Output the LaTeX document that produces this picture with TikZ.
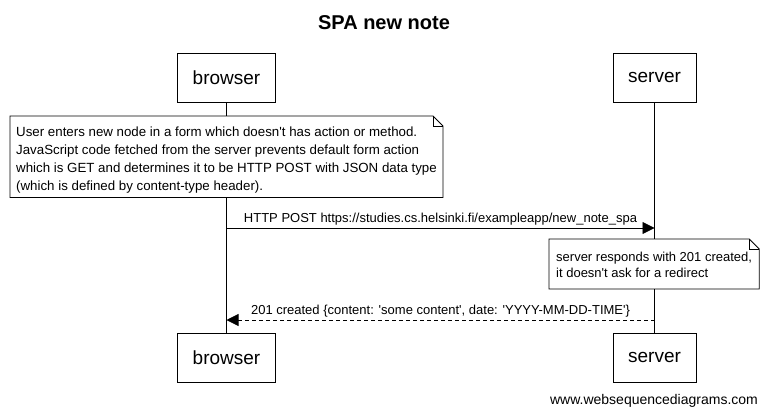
\documentclass[tikz,border=0pt]{standalone}
\usepackage{fontspec}
\setmainfont{Liberation Sans}
\usetikzlibrary{arrows.meta}
\tikzset{
  actor box/.style={
    draw,fill=white,font=\fontsize{19}{22}\selectfont,
    minimum height=49pt,inner xsep=15pt,line width=0.8pt,
  },
  note box/.style={
    fill=white,anchor=north west,align=left,inner xsep=6pt,inner ysep=0pt,
  },
  note line/.style={draw,line width=0.8pt},
  message/.style={line width=0.8pt,-{Triangle[length=12pt,width=12pt]}},
  reply/.style={message,dash pattern=on 4pt off 3pt},
  message label/.style={font=\fontsize{13}{15}\selectfont,above,inner sep=2pt},
}
\newcommand{\sq}{\textquotesingle}

\begin{document}
\begin{tikzpicture}[x=1pt,y=-1pt]
   \useasboundingbox[fill=white] (0,0) rectangle (768,416);

   % TITLE
   \node[font=\fontsize{20}{24}\selectfont\bfseries] (title) at (384,23) {SPA new note};

   % ACTORS
   \node[actor box] (browser) at (226.5,77.5) {browser}; % top
   \node[actor box] (server) at (654.5,77.5) {server}; % top
   \node[actor box] (browserB) at (226.5,357.5) {browser}; % bottom
   \node[actor box] (serverB) at (654.5,357.5) {server}; % bottom

   % LIFELINES
   \path[draw,line width=0.8pt] (browser)--(browserB);
   \path[draw,line width=0.8pt] (server)--(serverB);

   % NOTE BROWSER
   \node[note box,font=\fontsize{13.3}{18}\selectfont] (n1) at (10,116)
     {\rule{0pt}{20pt}User enters new node in a form which doesn\sq t has action or method.\\
      JavaScript code fetched from the server prevents default form action\\
      which is GET and determines it to be HTTP POST with JSON data type\\
      (which is defined by content-type header).\rule[-7pt]{0pt}{0pt}};
   \path[note line] (n1.north west)--([xshift=-10pt]n1.north east)--([yshift=-10pt]n1.north east)
     --(n1.south east)--(n1.south west)--cycle;
   \path[note line] ([xshift=-10pt]n1.north east)--([xshift=-10pt,yshift=-10pt]n1.north east)
     --([yshift=-10pt]n1.north east);

   % MESSAGE POST
   \coordinate (postFrom) at (browser |- 0,228);
   \coordinate (postTo) at (server |- 0,228);
   \draw[message] (postFrom)--(postTo)
     node[message label,midway] {HTTP POST https://studies.cs.helsinki.fi/exampleapp/new\_note\_spa};

   % NOTE SERVER
   \node[note box,font=\fontsize{13}{16.5}\selectfont,inner xsep=7pt] (n2) at (549,239)
     {\rule{0pt}{22pt}server responds with 201 created,\\
      it doesn\sq t ask for a redirect\rule[-11pt]{0pt}{0pt}};
   \path[note line] (n2.north west)--([xshift=-10pt]n2.north east)--([yshift=-10pt]n2.north east)
     --(n2.south east)--(n2.south west)--cycle;
   \path[note line] ([xshift=-10pt]n2.north east)--([xshift=-10pt,yshift=-10pt]n2.north east)
     --([yshift=-10pt]n2.north east);

   % MESSAGE REPLY
   \coordinate (replyFrom) at (server |- 0,320);
   \coordinate (replyTo) at (browser |- 0,320);
   \draw[reply] (replyFrom)--(replyTo)
     node[message label,midway] {201 created \{content: \sq some content\sq, date: \sq YYYY-MM-DD-TIME\sq\}};

   % FOOTER
   \node[font=\fontsize{14}{16}\selectfont] (footer) at (654,401) {www.websequencediagrams.com};
\end{tikzpicture}
\end{document}
